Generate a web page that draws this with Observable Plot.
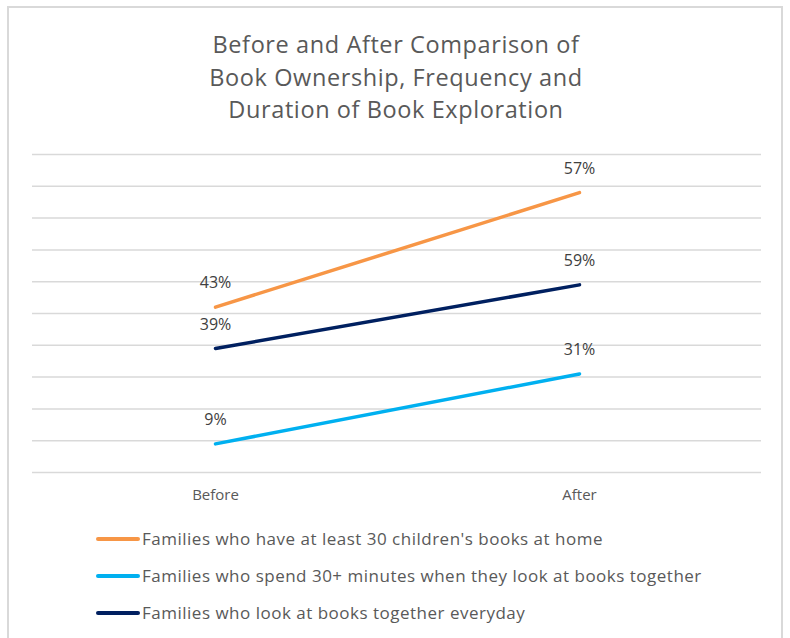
<!DOCTYPE html>
<html><head><meta charset="utf-8">
<script src="https://cdn.jsdelivr.net/npm/d3@7"></script>
<script src="https://cdn.jsdelivr.net/npm/@observablehq/plot@0.6"></script>
<style>
body{margin:0;background:#fff;font-family:"Open Sans",sans-serif;}
#wrap{position:relative;width:790px;height:638px;overflow:hidden;background:#fff}
#frame{position:absolute;left:7px;top:6px;width:776px;height:700px;border:2px solid #d9d9d9;box-sizing:border-box}
#title{position:absolute;top:28px;left:0;width:792px;text-align:center;font-size:23.5px;letter-spacing:0.6px;line-height:32.5px;color:#595959}
#chart{position:absolute;top:140px;left:0}
#legend{position:absolute;top:520px;left:96px;font-size:17px;letter-spacing:0.5px;color:#595959}
.item{height:37px;display:flex;align-items:center;white-space:nowrap}
.sw{width:44px;height:4px;border-radius:2px;margin-right:2px}
</style></head>
<body>
<div id="wrap">
<div id="frame"></div>
<div id="title">Before and After Comparison of<br>Book Ownership, Frequency and<br>Duration of Book Exploration</div>
<div id="chart"></div>
<div id="legend"></div>
</div>
<script>
const periods = ["Before", "After"];
const seriesNames = [
  "Families who have at least 30 children's books at home",
  "Families who spend 30+ minutes when they look at books together",
  "Families who look at books together everyday"
];
const seriesColors = ["#F79646", "#00B0F0", "#002060"];
const ownership = [43, 57];   // orange, drawn stacked on the light-blue series
const duration = [9, 31];     // light blue
const everyday = [39, 59];    // navy
const gridTicks = [0, 10, 20, 30, 40, 50, 60, 70, 80, 90, 100];

const rows = [];
periods.forEach((p, i) => {
  rows.push({series: seriesNames[0], period: p, value: ownership[i], plotY: ownership[i] + duration[i]});
  rows.push({series: seriesNames[1], period: p, value: duration[i], plotY: duration[i]});
  rows.push({series: seriesNames[2], period: p, value: everyday[i], plotY: everyday[i]});
});

const chart = Plot.plot({
  width: 790,
  height: 380,
  marginTop: 14,
  marginBottom: 48,
  marginLeft: 32,
  marginRight: 29,
  style: {fontFamily: "'Open Sans', sans-serif", background: "transparent"},
  x: {type: "point", domain: periods, padding: 0.5, axis: null},
  y: {domain: [0, 100], axis: null},
  color: {domain: seriesNames, range: seriesColors},
  marks: [
    Plot.ruleY(gridTicks, {stroke: "#d9d9d9", strokeWidth: 1.5}),
    Plot.text(periods, {x: d => d, frameAnchor: "bottom", dy: 23, lineAnchor: "middle", fontSize: 15, fill: "#595959"}),
    Plot.line(rows, {x: "period", y: "plotY", z: "series", stroke: "series", strokeWidth: 3.5, strokeLinecap: "round"}),
    Plot.text(rows, {x: "period", y: "plotY", text: d => d.value + "%", dy: -24, fontSize: 16, fill: "#404040", lineAnchor: "middle"})
  ]
});
document.getElementById("chart").appendChild(chart);

const legend = document.getElementById("legend");
seriesNames.forEach((name, i) => {
  const item = document.createElement("div");
  item.className = "item";
  const sw = document.createElement("div");
  sw.className = "sw";
  sw.style.background = seriesColors[i];
  const label = document.createElement("span");
  label.textContent = name;
  item.appendChild(sw);
  item.appendChild(label);
  legend.appendChild(item);
});
</script>
</body></html>
